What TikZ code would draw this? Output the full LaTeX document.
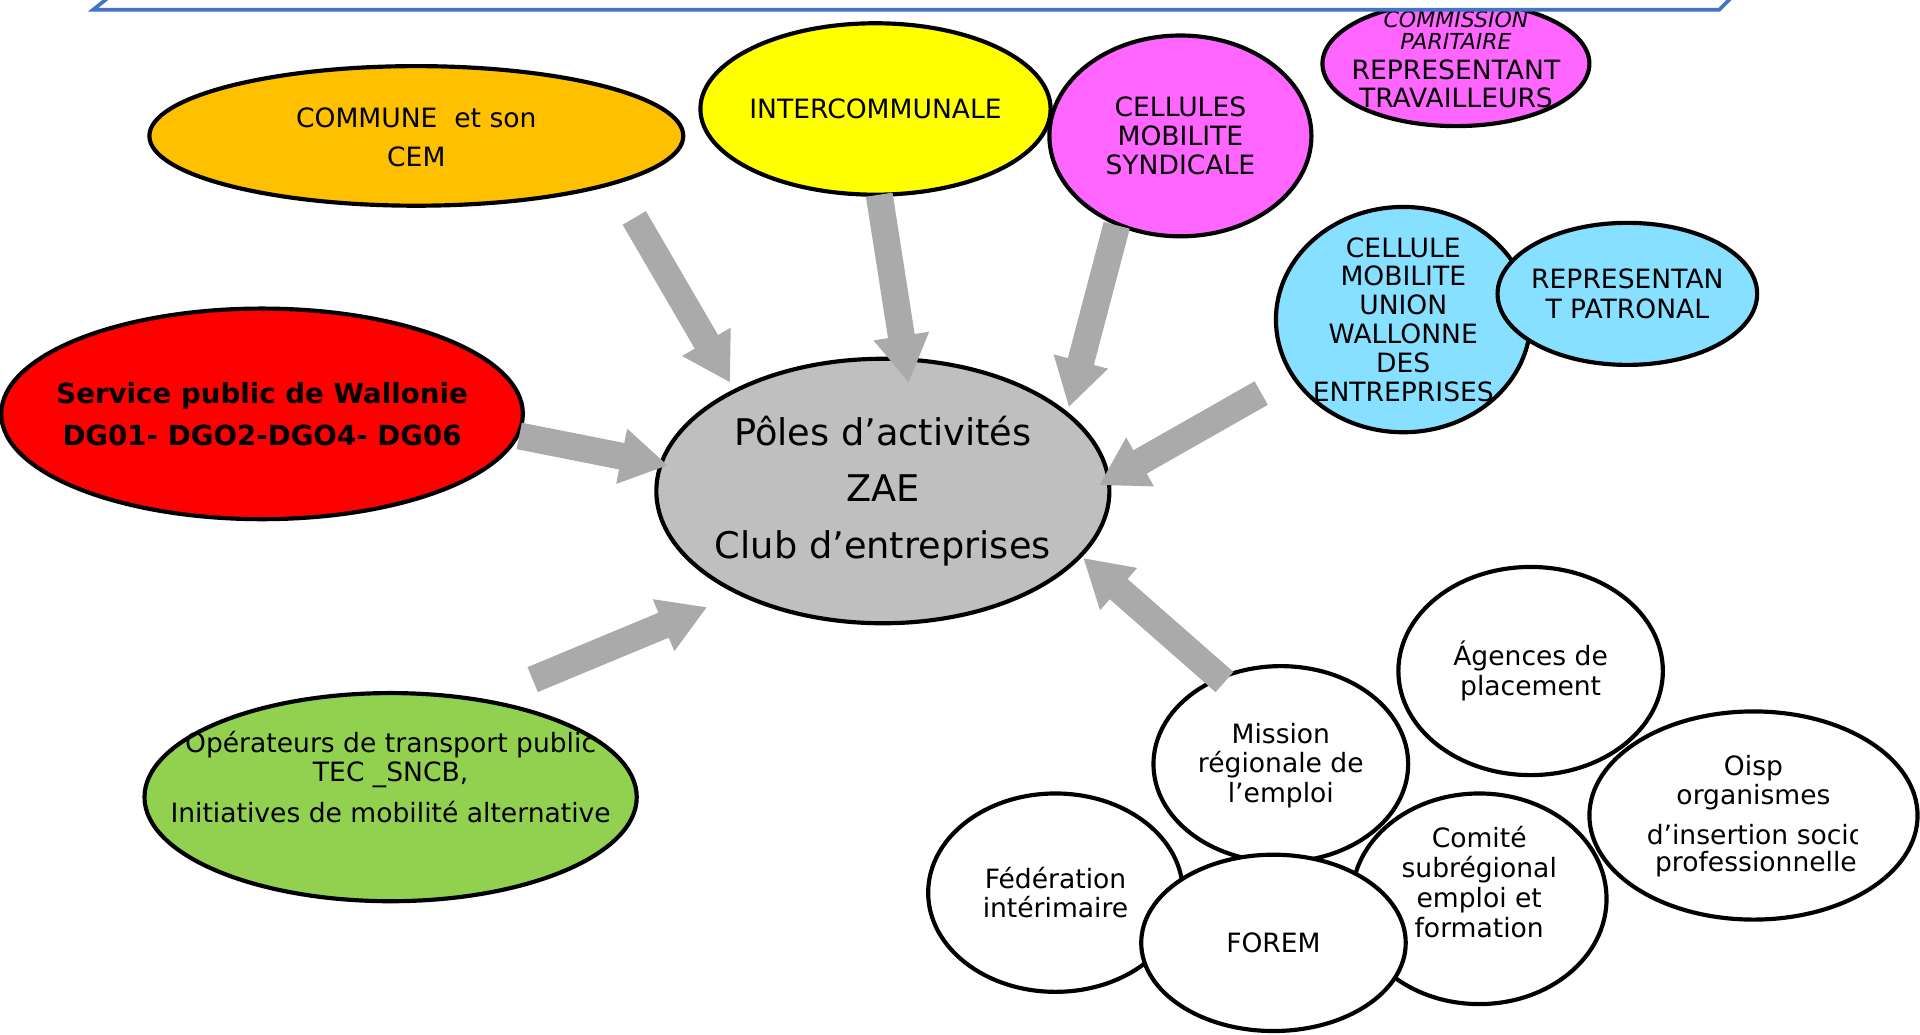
\documentclass[tikz,border=0pt]{standalone}
\usepackage{fontspec}
\setmainfont{DejaVu Sans}
\usetikzlibrary{shapes.geometric,calc}
\definecolor{cOrange}{HTML}{FFC000}
\definecolor{cYellow}{HTML}{FFFF00}
\definecolor{cMagenta}{HTML}{FF66FF}
\definecolor{cLightBlue}{HTML}{87E0FF}
\definecolor{cRed}{HTML}{FF0000}
\definecolor{cCenter}{HTML}{BFBFBF}
\definecolor{cGreen}{HTML}{92D050}
\definecolor{cRectBlue}{HTML}{4472C4}
\definecolor{arrowgray}{RGB}{170,170,170}
\newcommand{\myblockarrow}[2]{%
  \fill[arrowgray]
    ($(#1)!5.5pt!90:(#2)$) --
    ($($(#2)!19pt!(#1)$)!5.5pt!-90:(#1)$) --
    ($($(#2)!19pt!(#1)$)!11.5pt!-90:(#1)$) --
    (#2) --
    ($($(#2)!19pt!(#1)$)!11.5pt!90:(#1)$) --
    ($($(#2)!19pt!(#1)$)!5.5pt!90:(#1)$) --
    ($(#1)!5.5pt!-90:(#2)$) -- cycle;}
\tikzset{
  bub/.style={ellipse, draw=black, line width=1.7pt, inner sep=0pt},
  wbub/.style={bub, fill=white},
  txt/.style={align=center, inner sep=0pt, font=\fontsize{10.85pt}{12pt}\selectfont},
}
\begin{document}
\begin{tikzpicture}[x=0.5pt, y=-0.5pt]
\fill[white] (0,0) rectangle (1568,845);
\useasboundingbox (0,0) rectangle (1568,845);

% ---- top row
\node[bub, fill=cOrange, minimum width=218pt, minimum height=57pt] (commune) at (340,111) {};
\node[txt, font=\fontsize{10.85pt}{16pt}\selectfont] (commune-t) at (340,112) {COMMUNE\ \ et son\\CEM};

\node[bub, fill=cYellow, minimum width=143pt, minimum height=70pt] (inter) at (715,89) {};
\node[txt] (inter-t) at (715,89) {INTERCOMMUNALE};

\node[bub, fill=cMagenta, minimum width=107pt, minimum height=82pt] (cellules) at (964,111) {};
\node[txt, font=\fontsize{10.85pt}{11.75pt}\selectfont] (cellules-t) at (964,111) {CELLULES\\MOBILITE\\SYNDICALE};

\node[bub, fill=cMagenta, minimum width=109pt, minimum height=51pt] (commission) at (1189,52) {};
\node[txt, font=\fontsize{9pt}{9pt}\selectfont\itshape] (commission-a) at (1189,25) {COMMISSION\\PARITAIRE};
\node[txt, font=\fontsize{10.85pt}{11.5pt}\selectfont] (commission-b) at (1189,68.5) {REPRESENTANT\\TRAVAILLEURS};

\node[bub, fill=cLightBlue, minimum width=104pt, minimum height=92pt] (uwe) at (1146,261) {};
\node[txt, font=\fontsize{10.85pt}{11.8pt}\selectfont] (uwe-t) at (1146,261) {CELLULE\\MOBILITE\\UNION\\WALLONNE\\DES\\ENTREPRISES};

\node[bub, fill=cLightBlue, minimum width=106pt, minimum height=58pt] (patronal) at (1329,240) {};
\node[txt] (patronal-t) at (1329,240) {REPRESENTAN\\T PATRONAL};

% ---- left and centre
\node[bub, fill=cRed, minimum width=213pt, minimum height=86pt] (spw) at (214,338) {};
\node[txt, font=\fontsize{11.3pt}{17pt}\selectfont\bfseries] (spw-t) at (214,338) {Service public de Wallonie\\DG01- DGO2-DGO4- DG06};

\node[bub, fill=cCenter, minimum width=185pt, minimum height=108pt] (poles) at (721,401) {};
\node[txt, font=\fontsize{15pt}{23pt}\selectfont] (poles-t) at (721,401) {Pôles d’activités\\ZAE\\Club d’entreprises};

\node[bub, fill=cGreen, minimum width=201pt, minimum height=85pt] (oper) at (319,651) {};
\node[txt] (oper-t) at (319,634.5) {Opérateurs de transport public\\TEC \_SNCB,\\[4.5pt]Initiatives de mobilité alternative};

% ---- bottom right cluster
\node[wbub, minimum width=108pt, minimum height=85pt] (agences) at (1250,548) {};
\node[txt] (agences-t) at (1250,548) {Ágences de\\placement};

\node[wbub, minimum width=104pt, minimum height=80pt] (mission) at (1046,624) {};
\node[txt] (mission-t) at (1046,625) {Mission\\régionale de\\l’emploi};

\node[wbub, minimum width=134pt, minimum height=85pt] (oisp) at (1432,666) {};
\node[txt] (oisp-a) at (1432,639) {Oisp\\organismes};
\begin{scope}
  \clip (1290,670) rectangle (1517,730);
  \node[txt, font=\fontsize{10.85pt}{11pt}\selectfont] (oisp-b) at (1434,695) {d’insertion socio\\professionnelle};
\end{scope}

\node[wbub, minimum width=104pt, minimum height=81pt] (federation) at (862,729) {};
\node[txt] (federation-t) at (862,729) {Fédération\\intérimaire};

\node[wbub, minimum width=104pt, minimum height=86pt] (comite) at (1208,734) {};
\node[txt, font=\fontsize{10.85pt}{12.25pt}\selectfont] (comite-t) at (1208,720) {Comité\\subrégional\\emploi et\\formation};

\node[wbub, minimum width=108pt, minimum height=72pt] (forem) at (1040,770) {};
\node[txt] (forem-t) at (1040,770) {FOREM};

% ---- block arrows
\coordinate (a1s) at (518,178);  \coordinate (a1e) at (596,312);
\coordinate (a2s) at (718,159);  \coordinate (a2e) at (742,312);
\coordinate (a3s) at (912,184);  \coordinate (a3e) at (873,332);
\coordinate (a4s) at (1030,321); \coordinate (a4e) at (898,396);
\coordinate (a5s) at (424,356);  \coordinate (a5e) at (545,380);
\coordinate (a6s) at (435,555);  \coordinate (a6e) at (577,496);
\coordinate (a7s) at (1000,557); \coordinate (a7e) at (885,456);
\myblockarrow{a1s}{a1e}
\myblockarrow{a2s}{a2e}
\myblockarrow{a3s}{a3e}
\myblockarrow{a4s}{a4e}
\myblockarrow{a5s}{a5e}
\myblockarrow{a6s}{a6e}
\myblockarrow{a7s}{a7e}

% ---- top frame (cut off)
\fill[white] (101,-12) -- (76,8) -- (1404,8) -- (1424,-12) -- cycle;
\draw[cRectBlue, line width=1.5pt, line join=miter] (101,-12) -- (76,8) -- (1404,8) -- (1424,-12);
\end{tikzpicture}
\end{document}
